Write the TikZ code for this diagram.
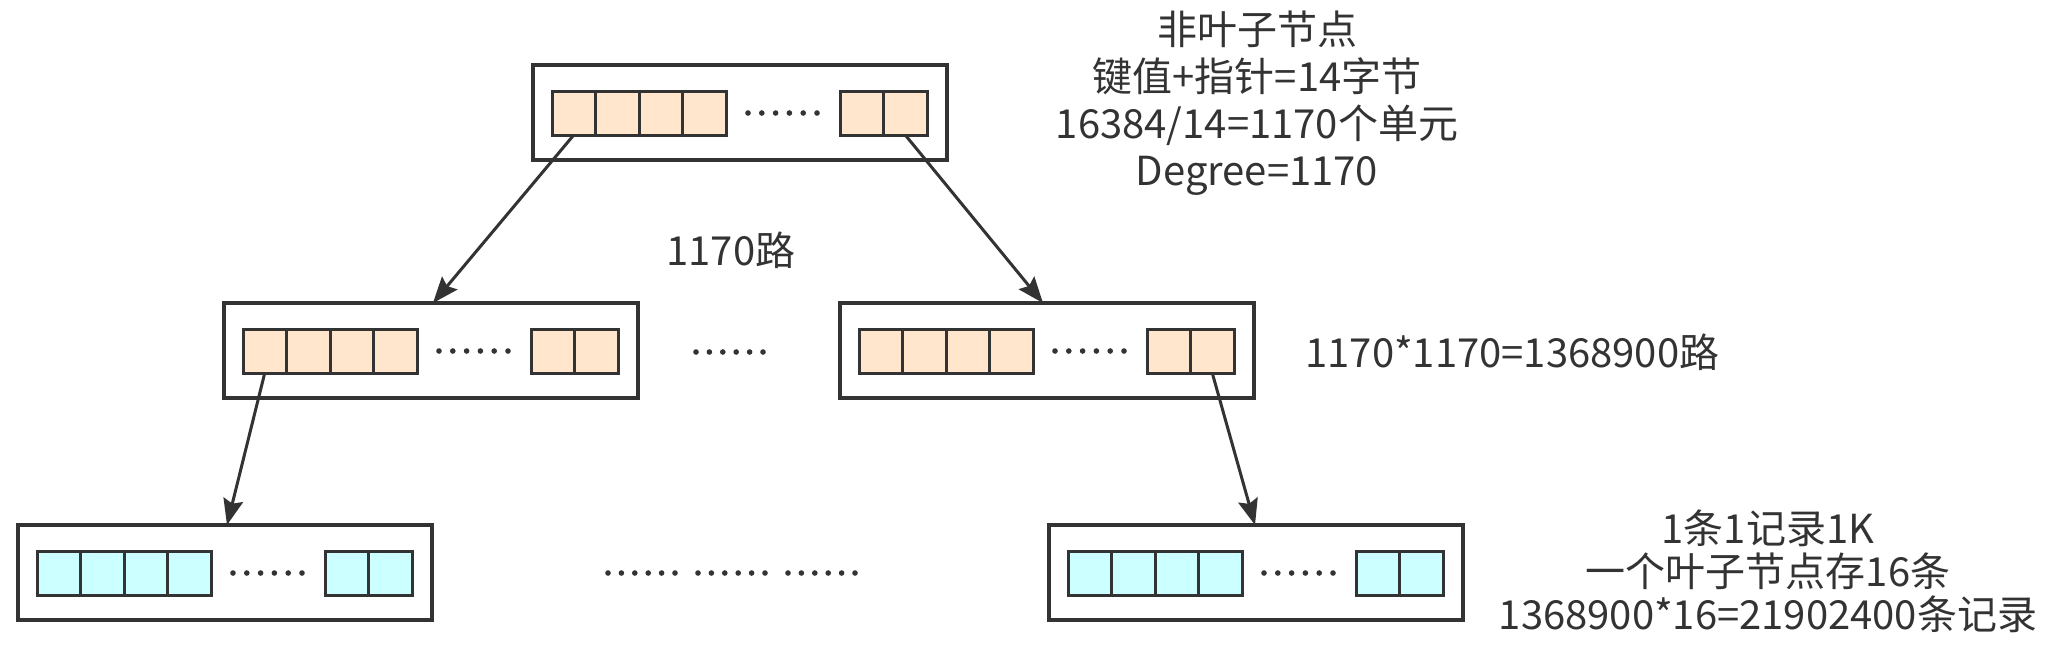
\documentclass[tikz,border=0pt]{standalone}
\usepackage{fontspec}
\setmainfont{Noto Sans CJK SC}
\usetikzlibrary{arrows.meta}
\definecolor{ink}{HTML}{333333}
\definecolor{orangecell}{HTML}{FFE6CC}
\definecolor{cyancell}{HTML}{CCFFFF}
\tikzset{
 outerbox/.style={draw=ink, line width=1.8pt, fill=white, minimum width=207pt, minimum height=47.5pt, inner sep=0pt, outer sep=0pt},
 cellbase/.style={draw=ink, line width=1.5pt, minimum width=21.75pt, minimum height=22pt, inner sep=0pt, outer sep=0pt},
 ocell/.style={cellbase, fill=orangecell},
 ccell/.style={cellbase, fill=cyancell},
 link/.style={draw=ink, line width=1.5pt, -{Stealth[length=13pt,width=10pt,inset=2pt]}},
 label/.style={text=ink, font=\fontsize{20pt}{23.4pt}\selectfont, align=center, inner sep=0pt},
}
\newcommand\treebox[4]{%
  \node[outerbox] (#1) at ({#2+207},{#3+47.5}) {};
  \foreach \k in {1,...,4}{
    \node[#4] (#1c\k) at ({#2+19+21.75+43.5*(\k-1)},{#3+48}) {};
  }
  \foreach \i in {0,...,5}{
    \fill[ink] ({#2+215+13.8*\i},{#3+48}) circle (1.4pt);
  }
  \node[#4] (#1p1) at ({#2+307+21.75},{#3+48}) {};
  \node[#4] (#1p2) at ({#2+307+65.25},{#3+48}) {};
}
\begin{document}
\begin{tikzpicture}[x=0.5pt,y=-0.5pt]
\useasboundingbox (0,0) rectangle (2046,644);
\treebox{root}{533}{65}{ocell}
\treebox{mL}{224}{303}{ocell}
\treebox{mR}{840}{303}{ocell}
\treebox{bL}{18}{525}{ccell}
\treebox{bR}{1049}{525}{ccell}
% dots between boxes
\foreach \i in {0,...,5}{
  \fill[ink] ({696+13.4*\i},352) circle (1.4pt);
}
\foreach \g in {0,1,2}{
  \foreach \i in {0,...,5}{
    \fill[ink] ({608+90*\g+13.4*\i},573) circle (1.4pt);
  }
}
% connectors
\coordinate (e1) at (433,303);
\coordinate (e2) at (1043,303);
\coordinate (e3) at (227,525);
\coordinate (e4) at (1255,525);
\draw[link] (rootc1.south) -- (e1);
\draw[link] (rootp2.south) -- (e2);
\draw[link] (mLc1.south) -- (e3);
\draw[link] (mRp2.south) -- (e4);
% labels
\node[label] (t1) at (1257,103) {非叶子节点\\键值+指针=14字节\\16384/14=1170个单元\\Degree=1170};
\node[label, anchor=west] (t2) at (666,250) {1170路};
\node[label, anchor=west] (t3) at (1305,352) {1170*1170=1368900路};
\node[label, font=\fontsize{20pt}{21.4pt}\selectfont] (t4) at (1768,571) {1条1记录1K\\一个叶子节点存16条\\1368900*16=21902400条记录};
\end{tikzpicture}
\end{document}
